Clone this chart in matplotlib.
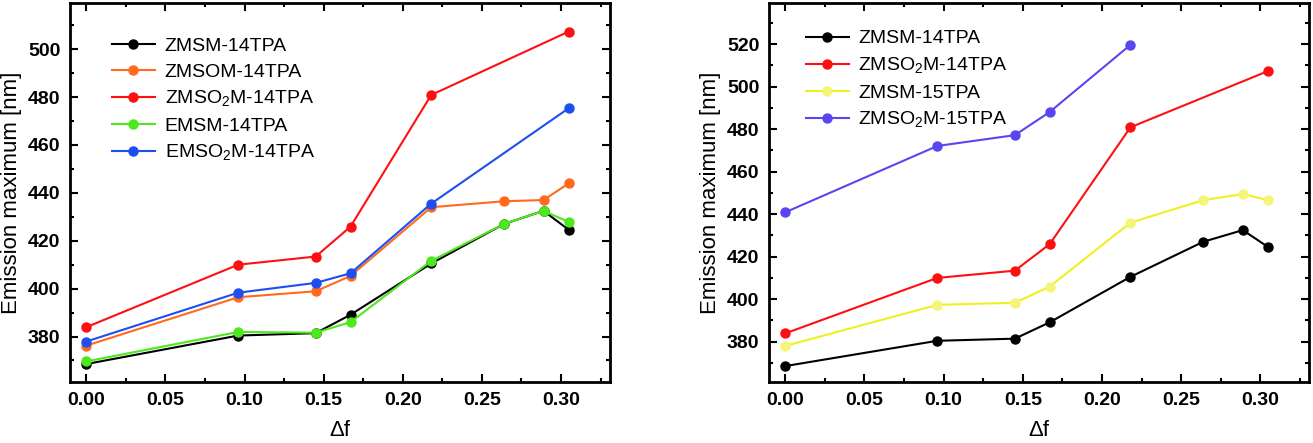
import numpy as np
import matplotlib
matplotlib.use('Agg')
import matplotlib.pyplot as plt
from matplotlib.ticker import MultipleLocator, FormatStrFormatter

plt.rcParams['font.family'] = ['Liberation Sans', 'DejaVu Sans']
plt.rcParams['mathtext.fontset'] = 'custom'
plt.rcParams['mathtext.rm'] = 'Liberation Sans'

# Data (solvent polarity parameter vs emission maximum)
df_all = [0.0, 0.096, 0.145, 0.167, 0.218, 0.264, 0.289, 0.305]
df_sub = [0.0, 0.096, 0.145, 0.167, 0.218, 0.305]
df_15 = [0.0, 0.096, 0.145, 0.167, 0.218]

zmsm_14 = [368.5, 380.4, 381.4, 389.1, 410.5, 427.0, 432.5, 424.5]
zmsom_14 = [376.2, 396.4, 398.9, 405.3, 434.0, 436.5, 437.0, 444.0]
zmso2m_14 = [383.9, 410.0, 413.4, 425.9, 480.9, 507.4]
emsm_14 = [369.6, 381.9, 381.6, 386.0, 411.6, 427.0, 432.5, 427.8]
emso2m_14 = [377.9, 398.3, 402.4, 406.4, 435.5, 475.4]
zmsm_15 = [378.0, 397.3, 398.3, 405.9, 436.0, 446.6, 449.5, 446.6]
zmso2m_15 = [440.9, 472.1, 477.2, 488.1, 519.7]

fig = plt.figure(figsize=(13.13, 4.43), dpi=100)
ax1 = fig.add_axes([0.0533, 0.1377, 0.4113, 0.8555])
ax2 = fig.add_axes([0.5857, 0.1377, 0.4115, 0.8555])

kw = dict(marker='o', markersize=6.5, linewidth=1.5)

ax1.plot(df_all, zmsm_14, color='black', label='ZMSM-14TPA', **kw)
ax1.plot(df_all, zmsom_14, color='#ff6a1f', label='ZMSOM-14TPA', **kw)
ax1.plot(df_sub, zmso2m_14, color='#ff0f12', label=r'ZMSO$_\mathregular{2}$M-14TPA', **kw)
ax1.plot(df_all, emsm_14, color='#4de81e', label='EMSM-14TPA', **kw)
ax1.plot(df_sub, emso2m_14, color='#1e4ef0', label=r'EMSO$_\mathregular{2}$M-14TPA', **kw)

ax2.plot(df_all, zmsm_14, color='black', label='ZMSM-14TPA', **kw)
ax2.plot(df_sub, zmso2m_14, color='#ff0f12', label=r'ZMSO$_\mathregular{2}$M-14TPA', **kw)
ax2.plot(df_all, zmsm_15, color='#f0f020', markerfacecolor='#f5f57a',
         markeredgecolor='#f5f57a', label='ZMSM-15TPA', **kw)
ax2.plot(df_15, zmso2m_15, color='#5a46f0', label=r'ZMSO$_\mathregular{2}$M-15TPA', **kw)

ax1.set_ylim(361, 519.3)
ax2.set_ylim(361, 539.4)

for ax in (ax1, ax2):
    ax.set_xlim(-0.0103, 0.331)
    ax.xaxis.set_major_locator(MultipleLocator(0.05))
    ax.xaxis.set_minor_locator(MultipleLocator(0.025))
    ax.xaxis.set_major_formatter(FormatStrFormatter('%.2f'))
    ax.yaxis.set_major_locator(MultipleLocator(20))
    ax.yaxis.set_minor_locator(MultipleLocator(10))
    ax.tick_params(which='both', direction='in', top=True, right=True, width=1.5)
    ax.tick_params(which='major', length=6, labelsize=14, pad=7)
    ax.tick_params(which='minor', length=3)
    for sp in ax.spines.values():
        sp.set_linewidth(2)
    ax.set_xlabel('Δf', fontsize=16, labelpad=8)
    ax.set_ylabel('Emission maximum [nm]', fontsize=16, labelpad=4)

leg_kw = dict(loc='upper left', frameon=False, fontsize=14,
              handlelength=2.2, handletextpad=0.5, labelspacing=0.42, borderpad=0)
ax1.legend(bbox_to_anchor=(0.06, 0.935), **leg_kw)
ax2.legend(bbox_to_anchor=(0.05, 0.955), **leg_kw)

# bold tick labels, applied after the ticks exist
fig.canvas.draw()
for ax in (ax1, ax2):
    for t in ax.xaxis.get_major_ticks() + ax.yaxis.get_major_ticks():
        t.label1.set_fontweight('bold')

fig.savefig('out.png', dpi=100)
